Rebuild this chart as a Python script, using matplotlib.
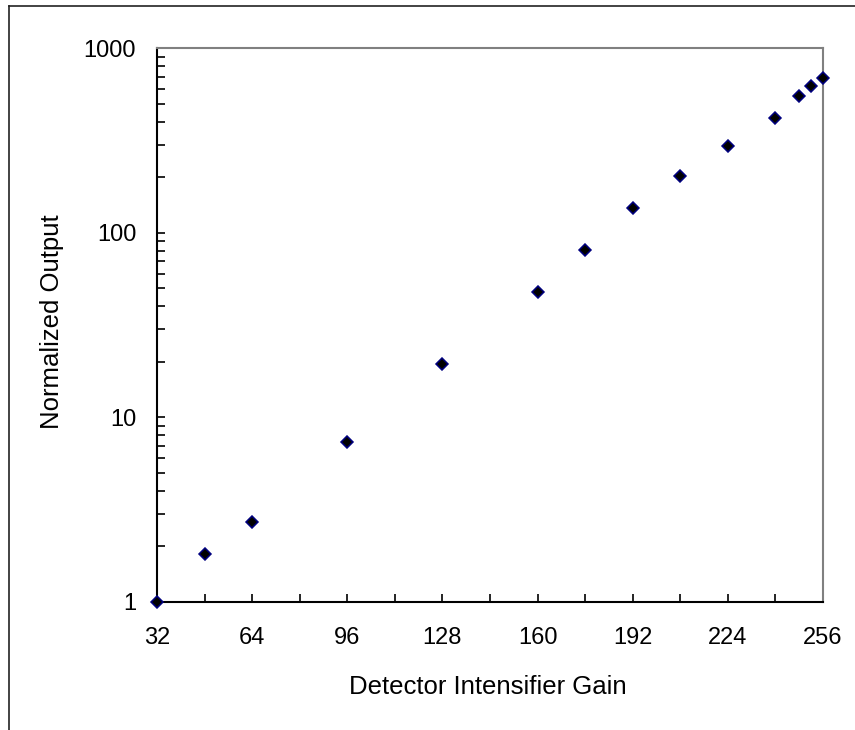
import matplotlib
matplotlib.use("Agg")
import matplotlib.pyplot as plt
from matplotlib.ticker import FixedLocator, NullFormatter, LogLocator
from matplotlib.lines import Line2D

plt.rcParams['font.family'] = ['Liberation Sans', 'DejaVu Sans']

gain = [32, 48, 64, 96, 128, 160, 176, 192, 208, 224, 240, 248, 252, 256]
output = [1.0, 1.81, 2.69, 7.31, 19.4, 47.5, 80.3, 135.6, 203, 295, 417, 551, 624, 687]
x_ticks = [32, 64, 96, 128, 160, 192, 224, 256]
x_minor = [48, 80, 112, 144, 176, 208, 240]
y_ticks = [1, 10, 100, 1000]
y_ticklabels = ["1", "10", "100", "1000"]

W, H = 855, 730
x0, x1, y_top, y_bot = 157, 823, 48.3, 601.7

fig = plt.figure(figsize=(W/100, H/100), dpi=100)
ax = fig.add_axes([x0/W, 1 - y_bot/H, (x1 - x0)/W, (y_bot - y_top)/H])

ax.plot(gain, output, linestyle='none', marker='D', markersize=6.3,
        markerfacecolor='black', markeredgecolor='#000080', markeredgewidth=1.1,
        clip_on=False, zorder=5)

ax.set_yscale('log')
ax.set_xlim(32, 256)
ax.set_ylim(1, 1000)

ax.xaxis.set_major_locator(FixedLocator(x_ticks))
ax.xaxis.set_minor_locator(FixedLocator(x_minor))
ax.set_xticklabels([str(v) for v in x_ticks])
ax.yaxis.set_major_locator(FixedLocator(y_ticks))
ax.set_yticklabels(y_ticklabels)
ax.yaxis.set_minor_locator(LogLocator(base=10, subs=range(2, 10)))
ax.yaxis.set_minor_formatter(NullFormatter())

ax.tick_params(which='both', direction='in', length=6, width=1.2, color='black',
               top=False, right=False)
ax.tick_params(axis='x', which='major', labelsize=17, pad=18)
ax.tick_params(axis='y', which='major', labelsize=17, pad=15)

for side in ['left', 'bottom']:
    ax.spines[side].set_color('black')
    ax.spines[side].set_linewidth(1.5)
for side in ['top', 'right']:
    ax.spines[side].set_color('#808080')
    ax.spines[side].set_linewidth(1.5)

ax.set_xlabel('Detector Intensifier Gain', fontsize=18.5)
ax.set_ylabel('Normalized Output', fontsize=18.5)
ax.xaxis.label.set_verticalalignment('center')
ax.yaxis.label.set_verticalalignment('center')
ax.xaxis.set_label_coords(0.497, (y_bot - 687) / (y_bot - y_top))
ax.yaxis.set_label_coords((52.5 - x0) / (x1 - x0), (y_bot - 322) / (y_bot - y_top))

# outer frame (top and left edges of the chart area)
fig.add_artist(Line2D([8.7/W, 8.7/W], [0, 1 - 6/H], transform=fig.transFigure,
                      color='#222222', linewidth=1.2))
fig.add_artist(Line2D([8.7/W, 1], [1 - 6/H, 1 - 6/H], transform=fig.transFigure,
                      color='#222222', linewidth=1.2))

fig.savefig('out.png', dpi=100)
